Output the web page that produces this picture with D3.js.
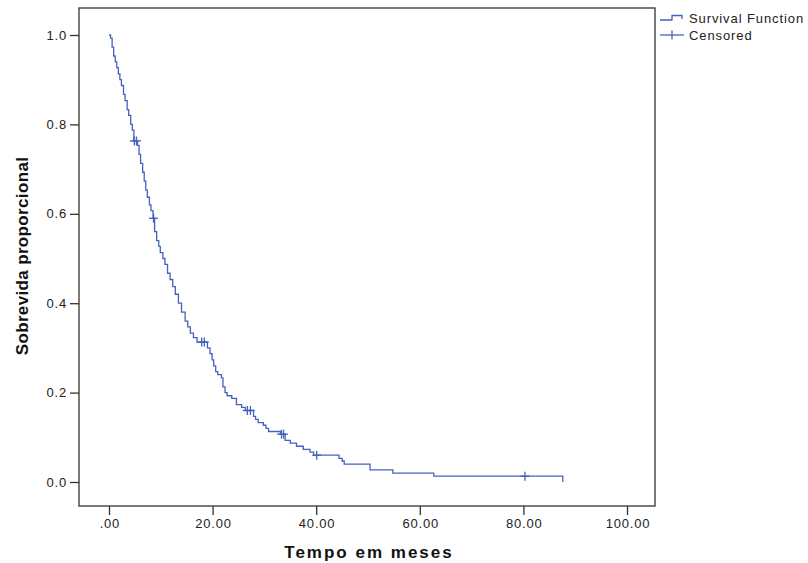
<!DOCTYPE html>
<html>
<head>
<meta charset="utf-8">
<script src="https://cdn.jsdelivr.net/npm/d3@7"></script>
<style>
  html, body { margin: 0; padding: 0; background: #fff; }
  svg { display: block; font-family: "Liberation Sans", Arial, sans-serif; }
</style>
</head>
<body>
<svg id="chart" width="808" height="563"></svg>
<script>
// Kaplan-Meier step points: time (months) at which survival drops to value
const eventTimes = [0, 0.3, 0.6, 0.9, 1.2, 1.5, 1.8, 2.1, 2.4, 2.8, 3.1, 3.5, 3.8, 4.2, 4.5, 4.8,
  5.5, 5.8, 6.1, 6.5, 6.8, 7.1, 7.4, 7.8, 8.1, 8.5, 8.8, 9.2, 9.6, 9.9, 10.4, 10.8, 11.3, 11.8,
  12.3, 12.8, 13.4, 14.0, 14.7, 15.2, 15.7, 16.3, 17.0, 19.0, 19.5, 19.9, 20.2, 20.6, 21.0, 21.7,
  22.0, 22.4, 22.8, 23.7, 24.6, 25.6, 26.3, 27.9, 28.3, 28.8, 29.8, 30.3, 30.8, 33.1, 34.0, 35.0,
  36.2, 37.5, 38.8, 39.5, 44.4, 45.0, 45.4, 50.4, 54.8, 62.7, 87.6];
const survival = [1.0, 0.993, 0.973, 0.953, 0.940, 0.927, 0.913, 0.900, 0.887, 0.867, 0.853, 0.833, 0.820, 0.800, 0.787, 0.763,
  0.753, 0.733, 0.713, 0.693, 0.673, 0.653, 0.637, 0.620, 0.607, 0.590, 0.560, 0.540, 0.527, 0.513, 0.500, 0.487, 0.467, 0.453,
  0.437, 0.420, 0.400, 0.380, 0.360, 0.347, 0.333, 0.323, 0.313, 0.300, 0.287, 0.273, 0.260, 0.247, 0.240, 0.233,
  0.213, 0.200, 0.193, 0.187, 0.173, 0.167, 0.160, 0.147, 0.140, 0.133, 0.127, 0.120, 0.113, 0.107, 0.093, 0.087,
  0.080, 0.073, 0.067, 0.060, 0.053, 0.047, 0.040, 0.027, 0.020, 0.013, 0.000];
// Censored observations (months)
const censorTimes = [4.9, 5.3, 8.6, 17.9, 18.4, 26.7, 27.3, 33.3, 33.7, 40.1, 80.3];
// Axis ticks
const xTicks = [0, 20, 40, 60, 80, 100];
const yTicks = [0.0, 0.2, 0.4, 0.6, 0.8, 1.0];
const xTickLabels = [".00", "20.00", "40.00", "60.00", "80.00", "100.00"];
const yTickLabels = ["0.0", "0.2", "0.4", "0.6", "0.8", "1.0"];
const legendLabels = ["Survival Function", "Censored"];

const lineColor = "#4462bb";
const frameColor = "#333";

const svg = d3.select("#chart");
const frame = { left: 79, right: 655, top: 8, bottom: 506 };

const x = d3.scaleLinear().domain([0, 100]).range([109, 627]);
const y = d3.scaleLinear().domain([0, 1]).range([482, 35]);

// frame
svg.append("rect")
  .attr("x", frame.left).attr("y", frame.top)
  .attr("width", frame.right - frame.left).attr("height", frame.bottom - frame.top)
  .attr("fill", "none").attr("stroke", frameColor).attr("stroke-width", 1.3);

// axes
const xAxis = d3.axisBottom(x).tickValues(xTicks).tickSize(9).tickPadding(4)
  .tickFormat((d, i) => xTickLabels[i]);
const gx = svg.append("g").attr("transform", `translate(0,${frame.bottom})`).call(xAxis);
gx.select(".domain").remove();

const yAxis = d3.axisLeft(y).tickValues(yTicks).tickSize(9).tickPadding(3)
  .tickFormat((d, i) => yTickLabels[i]);
const gy = svg.append("g").attr("transform", `translate(${frame.left},0)`).call(yAxis);
gy.select(".domain").remove();

[gx, gy].forEach(g => {
  g.selectAll(".tick line").attr("stroke", frameColor).attr("stroke-width", 1.3);
  g.selectAll(".tick text").attr("fill", "#222").style("font-size", "13px")
    .style("letter-spacing", "0.8px")
    .style("font-family", '"Liberation Sans", Arial, sans-serif');
});
gx.selectAll(".tick text").attr("dx", "0.4px");

// axis titles
svg.append("text")
  .attr("x", 369).attr("y", 558)
  .attr("text-anchor", "middle")
  .style("font-size", "17px").style("font-weight", "bold").style("letter-spacing", "2px")
  .attr("fill", "#111")
  .text("Tempo em meses");

svg.append("text")
  .attr("transform", "translate(28,256) rotate(-90)")
  .attr("text-anchor", "middle")
  .style("font-size", "17px").style("font-weight", "bold").style("letter-spacing", "0.35px")
  .attr("fill", "#111")
  .text("Sobrevida proporcional");

// survival step line
const pts = eventTimes.map((t, i) => [t, survival[i]]);
const line = d3.line().x(d => x(d[0])).y(d => y(d[1])).curve(d3.curveStepAfter);
svg.append("path").datum(pts)
  .attr("d", line)
  .attr("fill", "none").attr("stroke", lineColor).attr("stroke-width", 1.3);

// censor marks
function survAt(t) {
  let s = 1;
  for (let i = 0; i < eventTimes.length; i++) { if (eventTimes[i] <= t) s = survival[i]; }
  return s;
}
const cg = svg.append("g");
censorTimes.forEach(t => {
  const cx = x(t), cy = y(survAt(t));
  cg.append("line").attr("x1", cx).attr("x2", cx).attr("y1", cy - 4.5).attr("y2", cy + 4.5)
    .attr("stroke", lineColor).attr("stroke-width", 1.3);
  cg.append("line").attr("x1", cx - 4.5).attr("x2", cx + 4.5).attr("y1", cy).attr("y2", cy)
    .attr("stroke", lineColor).attr("stroke-width", 1.3);
});

// legend
const lg = svg.append("g");
lg.append("path")
  .attr("d", "M660,20H672V15.5H682V19")
  .attr("fill", "none").attr("stroke", lineColor).attr("stroke-width", 1.3);
lg.append("line").attr("x1", 660).attr("x2", 684).attr("y1", 35).attr("y2", 35)
  .attr("stroke", lineColor).attr("stroke-width", 1.3);
lg.append("line").attr("x1", 672).attr("x2", 672).attr("y1", 30.5).attr("y2", 39.5)
  .attr("stroke", lineColor).attr("stroke-width", 1.3);
legendLabels.forEach((l, i) => {
  lg.append("text").attr("x", 689).attr("y", 22.5 + i * 17)
    .style("font-size", "13px").style("letter-spacing", "0.9px")
    .attr("fill", "#222").text(l);
});
</script>
</body>
</html>
